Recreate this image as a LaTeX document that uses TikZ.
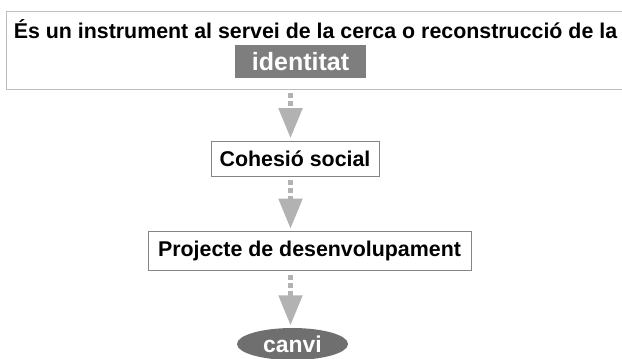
\documentclass[tikz,border=0pt]{standalone}
\usepackage{fontspec}
\setmainfont{Liberation Sans}
\usetikzlibrary{positioning,shapes.geometric,arrows.meta}
\definecolor{vora}{HTML}{BDBDBD}
\definecolor{voraf}{HTML}{858585}
\definecolor{fons}{HTML}{7E7E7E}
\definecolor{fonsel}{HTML}{6F6F6F}
\definecolor{fletxagris}{HTML}{B2B2B2}
\tikzset{
	lletra/.style={font=\fontsize{#1}{17}\selectfont\bfseries},
	lletra/.default=15.2,
	marc/.style={draw=vora, line width=0.6pt, minimum width=15.4cm, minimum height=1.95cm},
	caixa/.style={draw=voraf, line width=0.6pt, lletra, inner sep=0pt, minimum height=0.875cm},
	identbox/.style={fill=fons, text=white, lletra=17.8, inner sep=0pt, minimum width=3.275cm, minimum height=0.825cm},
	elipse/.style={ellipse, fill=fonsel, text=white, lletra=16.3, inner sep=0pt, minimum width=2.775cm, minimum height=0.8cm},
	fletxa/.style={draw=fletxagris, line width=0.125cm, dash pattern=on 0.125cm off 0.075cm,
		-{Triangle[width=0.575cm,length=0.75cm,fill=fletxagris]}, shorten <=0.1cm, shorten >=0.06cm}
}
\begin{document}
\begin{tikzpicture}[x=0.025cm,y=-0.025cm]
	\useasboundingbox (0,0) rectangle (622,358);
	%% marc superior
	\node[marc] (lema) at (315,50) {};
	\node[lletra, anchor=base] (frase) at (315.5,38) {És un instrument al servei de la cerca o reconstrucció de la};
	\node[identbox] (ident) at (300.5,61.5) {identitat};
	%% caixes
	\node[caixa, minimum width=4.2cm] (cohesio) at (295,158.5) {Cohesió social};
	\node[caixa, minimum width=8.075cm, minimum height=0.975cm] (projecte) at (309.5,251) {Projecte de desenvolupament};
	\node[elipse] (canvi) at (292.5,344) {canvi};
	%% eix de les fletxes
	\coordinate (eix) at (290.5,0);
	\draw[fletxa] (lema.south -| eix) -- (cohesio.north -| eix);
	\draw[fletxa] (cohesio.south -| eix) -- (projecte.north -| eix);
	\draw[fletxa] (projecte.south -| eix) -- (canvi.north -| eix);
\end{tikzpicture}
\end{document}
